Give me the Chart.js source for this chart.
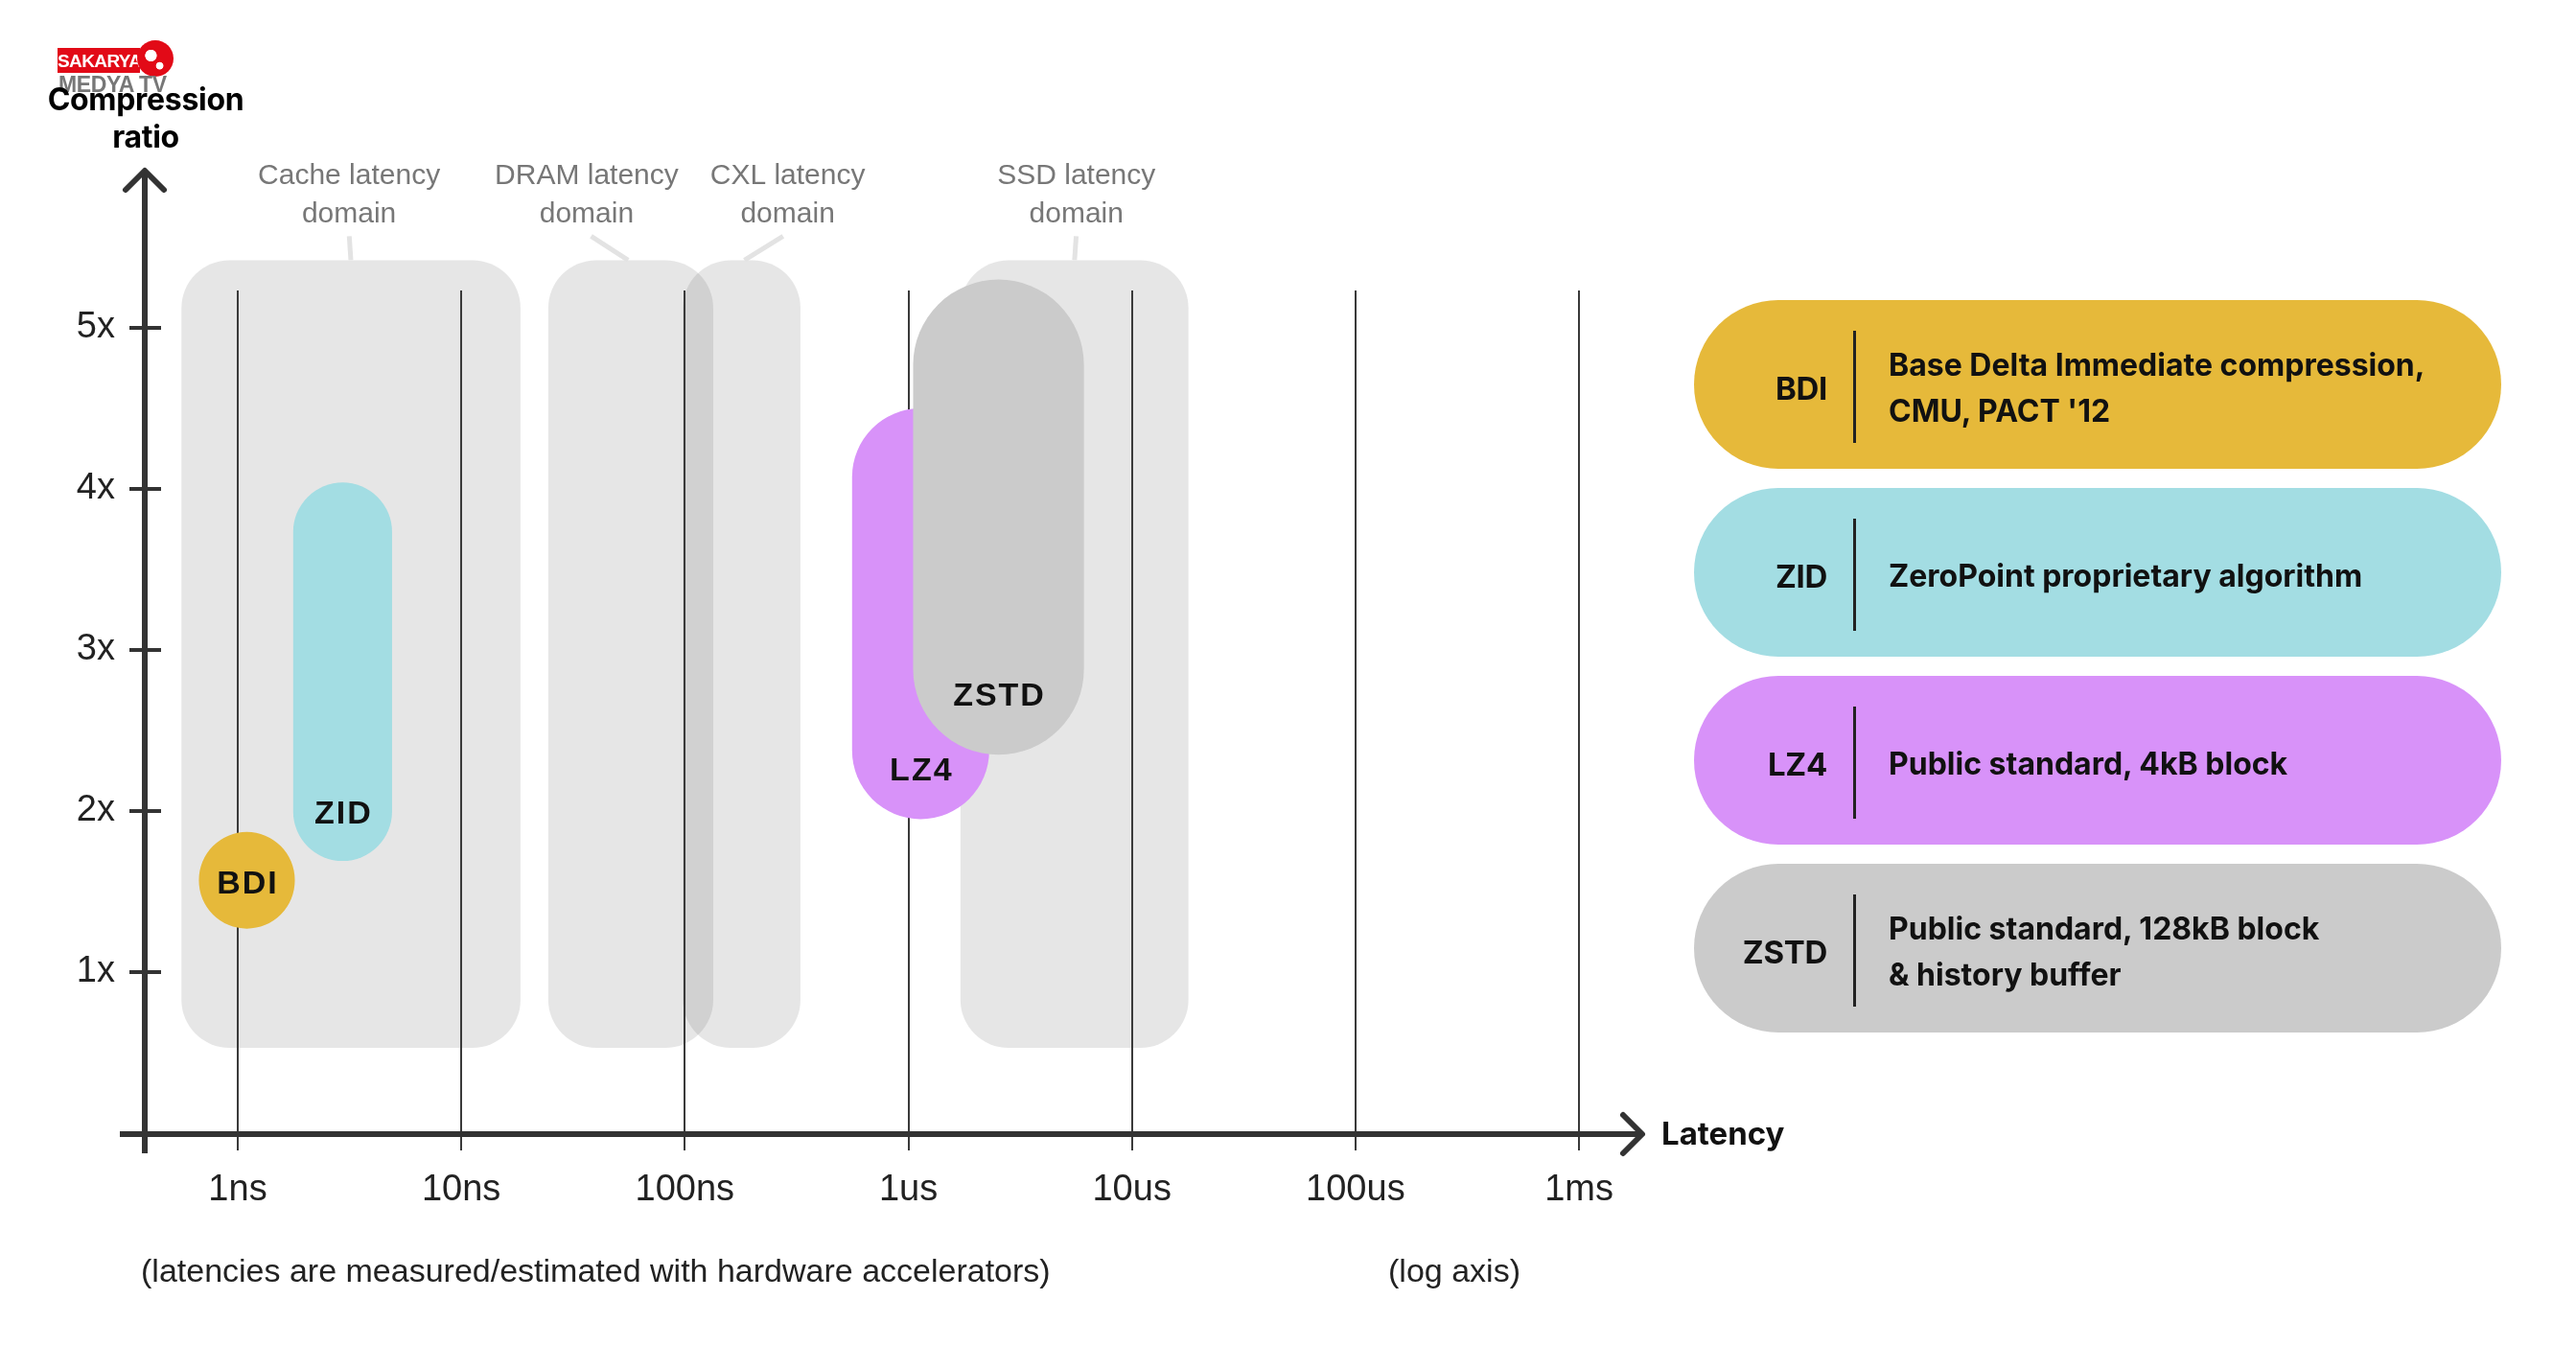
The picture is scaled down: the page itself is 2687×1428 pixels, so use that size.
<!DOCTYPE html>
<html>
<head>
<meta charset="utf-8">
<title>Compression ratio vs latency</title>
<script src="https://cdn.jsdelivr.net/npm/chart.js@4.4.1/dist/chart.umd.min.js"></script>
<style>
  html, body { margin: 0; padding: 0; background: #fff; }
  #wrap { position: relative; width: 2687px; height: 1428px; overflow: hidden; font-family: Inter, 'Liberation Sans', sans-serif; }
  #chart { position: absolute; left: 0; top: 0; }

  .logo-red { position: absolute; left: 60px; top: 50px; width: 86px; height: 26px; background: #e20a17;
              color: #fff; font: bold 19px 'Liberation Sans', sans-serif; letter-spacing: -0.6px;
              line-height: 27px; text-align: center; }
  .logo-globe { position: absolute; left: 143px; top: 42px; width: 38px; height: 38px; border-radius: 50%;
                background: radial-gradient(circle at 38% 42%, #fff 0 18%, transparent 20%),
                            radial-gradient(circle at 62% 70%, #fff 0 10%, transparent 12%), #e20a17; }
  .logo-sub { position: absolute; left: 61px; top: 75px; font: bold 23px 'Liberation Sans', sans-serif;
              color: #777; letter-spacing: -0.4px; line-height: 26px; }

  .ytitle { position: absolute; left: 2px; top: 84px; width: 300px; text-align: center;
            font-weight: 700; font-size: 32px; line-height: 39px; color: #000; letter-spacing: -0.3px; }

  #legend { position: absolute; left: 1767px; top: 313px; width: 842px; }
  .pill { position: absolute; left: 0; width: 842px; height: 176px; border-radius: 88px; }
  .pill .tag { position: absolute; left: 0; width: 139px; top: 0; height: 176px; padding-top: 8px; box-sizing: border-box;
               display: flex; align-items: center; justify-content: flex-end;
               font-weight: 700; font-size: 33px; color: #111; letter-spacing: -0.3px; }
  .pill .bar { position: absolute; left: 166px; top: 32px; width: 3px; height: 117px; background: #222; }
  .pill .desc { position: absolute; left: 203px; top: 0; height: 176px; padding-top: 8px; box-sizing: border-box;
                display: flex; align-items: center;
                font-weight: 700; font-size: 32px; line-height: 48px; color: #111; letter-spacing: 0px; white-space: pre; }

  .note { position: absolute; top: 1305px; font: 34px 'Liberation Sans', sans-serif; line-height: 40px;
          color: #222; letter-spacing: 0px; white-space: nowrap; }
  .note-left { left: 147px; }
  .note-right { left: 1417px; width: 200px; text-align: center; }
</style>
</head>
<body>
<div id="wrap">
  <canvas id="chart" width="2687" height="1428"></canvas>
  <div class="logo-red">SAKARYA</div>
  <div class="logo-globe"></div>
  <div class="logo-sub">MEDYA TV</div>
  <div class="ytitle">Compression<br>ratio</div>
  <div id="legend"></div>
  <div class="note note-left">(latencies are measured/estimated with hardware accelerators)</div>
  <div class="note note-right">(log axis)</div>
</div>

<script>
// algorithms: latency range (ns) and compression ratio range
const algorithms = ['BDI', 'ZID', 'LZ4', 'ZSTD'];
const algoLatencyMin = [0.67, 1.77, 560, 1050];
const algoLatencyMax = [1.8, 4.9, 2300, 6100];
const algoRatioMin = [1.27, 1.69, 1.95, 2.35];
const algoRatioMax = [1.87, 4.04, 4.5, 5.3];
const algoDescriptions = [
    "Base Delta Immediate compression,\nCMU, PACT '12",
    'ZeroPoint proprietary algorithm',
    'Public standard, 4kB block',
    'Public standard, 128kB block\n& history buffer'
];

// latency domains (background boxes)
const domains = ['Cache latency\ndomain', 'DRAM latency\ndomain', 'CXL latency\ndomain', 'SSD latency\ndomain'];
const domainLatencyMin = [0.56, 24.5, 98, 1710];
const domainLatencyMax = [18.4, 134, 329, 17900];
const domainRatioMin = [0.53, 0.53, 0.53, 0.53];
const domainRatioMax = [5.42, 5.42, 5.42, 5.42];

// axes
const latencyTicks = [1, 10, 100, 1e3, 1e4, 1e5, 1e6];
const latencyLabels = ['1ns', '10ns', '100ns', '1us', '10us', '100us', '1ms'];
const ratioTicks = [1, 2, 3, 4, 5];
const ratioLabels = ['1x', '2x', '3x', '4x', '5x'];

// styles
const algoColors = ['#e6b93a', '#a3dde3', '#d892f9', '#cbcbcb'];
const algoLabelLift = [null, 48, 50, 61];   // px above the bottom of the shape, null = centred
const domainFill = 'rgba(88, 88, 88, 0.15)';
const domainRadius = 50;
const domainLabelShift = [-2, -46, 48, 2];
const gridTopRatio = 5.232;

function roundRectPath(ctx, x, y, w, h, r) {
    r = Math.min(r, w / 2, h / 2);
    ctx.beginPath();
    ctx.moveTo(x + r, y);
    ctx.arcTo(x + w, y, x + w, y + h, r);
    ctx.arcTo(x + w, y + h, x, y + h, r);
    ctx.arcTo(x, y + h, x, y, r);
    ctx.arcTo(x, y, x + w, y, r);
    ctx.closePath();
}

// box in pixels from the two corner points of a dataset
function boxOf(chart, datasetIndex) {
    const pts = chart.getDatasetMeta(datasetIndex).data;
    const x0 = Math.min(pts[0].x, pts[1].x), x1 = Math.max(pts[0].x, pts[1].x);
    const y0 = Math.min(pts[0].y, pts[1].y), y1 = Math.max(pts[0].y, pts[1].y);
    return { x: x0, y: y0, w: x1 - x0, h: y1 - y0, cx: (x0 + x1) / 2 };
}

const shapesPlugin = {
    id: 'shapes',
    beforeDatasetsDraw(chart) {
        const ctx = chart.ctx;
        const xs = chart.scales.x, ys = chart.scales.y;
        ctx.save();

        // domain boxes
        domains.forEach((name, i) => {
            const b = boxOf(chart, i);
            roundRectPath(ctx, b.x, b.y, b.w, b.h, domainRadius);
            ctx.fillStyle = domainFill;
            ctx.fill();

            const shift = domainLabelShift[i];
            const lx = b.cx + shift;
            ctx.strokeStyle = '#e3e3e3';
            ctx.lineWidth = 5;
            ctx.lineCap = 'butt';
            ctx.beginPath();
            ctx.moveTo(lx - shift * 0.1, b.y - 25);
            ctx.lineTo(b.cx + shift * 0.06, b.y);
            ctx.stroke();

            ctx.font = '30px "Liberation Sans"';
            ctx.fillStyle = '#777';
            ctx.textAlign = 'center';
            ctx.textBaseline = 'alphabetic';
            name.split('\n').forEach((t, k) => ctx.fillText(t, lx, b.y - 79 + k * 40));
        });

        // vertical grid lines at the decades
        const yTop = ys.getPixelForValue(gridTopRatio);
        const yBot = ys.getPixelForValue(0) + 18;
        ctx.strokeStyle = '#3a3a3a';
        ctx.lineWidth = 2;
        latencyTicks.forEach(v => {
            const x = Math.round(xs.getPixelForValue(v));
            ctx.beginPath();
            ctx.moveTo(x, yTop);
            ctx.lineTo(x, yBot);
            ctx.stroke();
        });

        // algorithm capsules
        algorithms.forEach((name, i) => {
            const b = boxOf(chart, domains.length + i);
            const r = Math.min(b.w, b.h) / 2;
            roundRectPath(ctx, b.x, b.y, b.w, b.h, r);
            ctx.fillStyle = algoColors[i];
            ctx.fill();
        });
        algorithms.forEach((name, i) => {
            const b = boxOf(chart, domains.length + i);
            const lift = algoLabelLift[i];
            const ly = lift === null ? b.y + b.h / 2 + 4 : b.y + b.h - lift;
            ctx.font = 'bold 34px "Liberation Sans"';
            ctx.letterSpacing = '2px';
            ctx.fillStyle = '#111';
            ctx.textAlign = 'center';
            ctx.textBaseline = 'middle';
            ctx.fillText(name, b.cx + 1, ly);
            ctx.letterSpacing = '0px';
        });
        ctx.restore();
    },
    afterDatasetsDraw(chart) {
        const ctx = chart.ctx;
        const area = chart.chartArea;
        const ys = chart.scales.y;
        const left = area.left;
        const base = ys.getPixelForValue(0) + 1;
        const tipY = area.top + 3;
        const tipX = area.right;
        ctx.save();
        ctx.strokeStyle = '#333';
        ctx.lineWidth = 6;
        ctx.lineCap = 'butt';

        // y axis
        ctx.beginPath();
        ctx.moveTo(left, base + 20);
        ctx.lineTo(left, tipY + 2);
        ctx.stroke();
        // x axis
        ctx.beginPath();
        ctx.moveTo(left - 26, base);
        ctx.lineTo(tipX - 2, base);
        ctx.stroke();

        // arrow heads
        ctx.lineCap = 'round';
        ctx.lineJoin = 'round';
        ctx.beginPath();
        ctx.moveTo(left - 20, tipY + 21);
        ctx.lineTo(left, tipY + 1);
        ctx.lineTo(left + 20, tipY + 21);
        ctx.stroke();
        ctx.beginPath();
        ctx.moveTo(tipX - 22, base - 20);
        ctx.lineTo(tipX - 2, base);
        ctx.lineTo(tipX - 22, base + 20);
        ctx.stroke();

        // y tick marks across the axis
        ctx.lineCap = 'butt';
        ctx.lineWidth = 4;
        ratioTicks.forEach(v => {
            const y = Math.round(ys.getPixelForValue(v));
            ctx.beginPath();
            ctx.moveTo(left - 16, y);
            ctx.lineTo(left + 17, y);
            ctx.stroke();
        });

        // axis name
        ctx.font = 'bold 33px Inter';
        ctx.fillStyle = '#111';
        ctx.textAlign = 'left';
        ctx.textBaseline = 'middle';
        ctx.fillText('Latency', tipX + 18, base + 1);
        ctx.restore();
    }
};

const datasets = [];
domains.forEach((name, i) => {
    datasets.push({
        label: name.replace('\n', ' '),
        data: [{ x: domainLatencyMin[i], y: domainRatioMin[i] }, { x: domainLatencyMax[i], y: domainRatioMax[i] }],
        pointRadius: 0,
        showLine: false,
        clip: false
    });
});
algorithms.forEach((name, i) => {
    datasets.push({
        label: name,
        data: [{ x: algoLatencyMin[i], y: algoRatioMin[i] }, { x: algoLatencyMax[i], y: algoRatioMax[i] }],
        pointRadius: 0,
        showLine: false,
        clip: false,
        backgroundColor: algoColors[i]
    });
});

const ctx = document.getElementById('chart').getContext('2d');
const chart = new Chart(ctx, {
    type: 'scatter',
    data: { datasets: datasets },
    plugins: [shapesPlugin],
    options: {
        responsive: false,
        animation: false,
        events: [],
        layout: { padding: { left: 0, top: 174, right: 972, bottom: 126 } },
        plugins: {
            legend: { display: false },
            tooltip: { enabled: false }
        },
        scales: {
            x: {
                type: 'logarithmic',
                min: Math.pow(10, -0.416),
                max: Math.pow(10, 6.2915),
                afterBuildTicks: scale => { scale.ticks = latencyTicks.map(v => ({ value: v })); },
                afterFit: scale => { scale.height = 120; },
                grid: { display: false, drawTicks: false },
                border: { display: false },
                ticks: {
                    autoSkip: false,
                    maxRotation: 0,
                    padding: 37,
                    color: '#222',
                    font: { family: 'Liberation Sans', size: 38 },
                    callback: (value, index) => latencyLabels[index]
                }
            },
            y: {
                type: 'linear',
                min: 0,
                max: 6,
                afterBuildTicks: scale => { scale.ticks = ratioTicks.map(v => ({ value: v })); },
                afterFit: scale => { scale.width = 151; },
                grid: { display: false, drawTicks: false },
                border: { display: false },
                ticks: {
                    padding: 31,
                    color: '#222',
                    font: { family: 'Liberation Sans', size: 38 },
                    callback: (value, index) => ratioLabels[index]
                }
            }
        }
    }
});

// legend pills
const legend = document.getElementById('legend');
algorithms.forEach((name, i) => {
    const pill = document.createElement('div');
    pill.className = 'pill';
    pill.style.top = (i * 196) + 'px';
    pill.style.background = algoColors[i];
    pill.innerHTML = `
        <div class="tag">${name}</div>
        <div class="bar"></div>
        <div class="desc"></div>
    `;
    pill.querySelector('.desc').textContent = algoDescriptions[i];
    legend.appendChild(pill);
});
</script>
</body>
</html>
